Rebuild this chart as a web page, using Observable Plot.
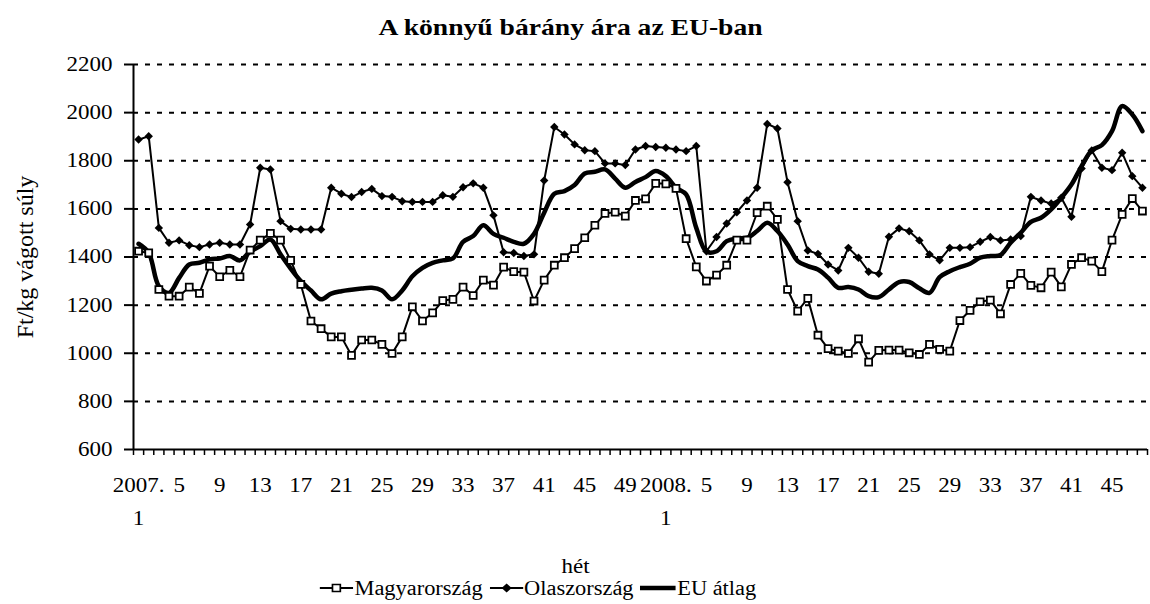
<!DOCTYPE html>
<html>
<head>
<meta charset="utf-8">
<script src="https://cdn.jsdelivr.net/npm/d3@7"></script>
<script src="https://cdn.jsdelivr.net/npm/@observablehq/plot@0.6"></script>
<style>
  html, body { margin: 0; padding: 0; background: #fff; }
  body { font-family: "Liberation Serif", "Times New Roman", serif; color: #000; }
  #wrap { position: relative; width: 1150px; height: 604px; overflow: hidden; }
  #title { position: absolute; top: 14px; left: 0; width: 1141px; text-align: center;
           font-weight: bold; font-size: 24px; line-height: 26px; transform: scaleX(1.15); transform-origin: 50% 50%; }
  #chart { position: absolute; top: 48px; left: 0; }
  #legend { position: absolute; top: 577px; left: 0; width: 1076px; height: 22px; display: flex;
            justify-content: center; align-items: center; font-size: 20px; transform: scaleX(1.12); transform-origin: 50% 50%; }
  #legend .item { display: flex; align-items: center; margin: 0 3px; }
  #legend svg { margin-right: 1px; }
</style>
</head>
<body>
<div id="wrap">
  <div id="title"></div>
  <div id="chart"></div>
  <div id="legend"></div>
</div>
<script>
// ---- Data ----
const chartTitle = "A könnyű bárány ára az EU-ban";
const yTitle = "Ft/kg vágott súly";
const xTitle = "hét";
const seriesNames = ["Magyarország", "Olaszország", "EU átlag"];

// weeks: 2007 week 1..52, 2008 week 1..48
const weeks2007 = 52;
const weeks2008 = 48;
const categories = [
  ...d3.range(1, weeks2007 + 1).map(w => `2007. ${w}`),
  ...d3.range(1, weeks2008 + 1).map(w => `2008. ${w}`)
];

const xTickLabels = ["2007. 1","2007. 5","2007. 9","2007. 13","2007. 17","2007. 21","2007. 25","2007. 29",
  "2007. 33","2007. 37","2007. 41","2007. 45","2007. 49",
  "2008. 1","2008. 5","2008. 9","2008. 13","2008. 17","2008. 21","2008. 25","2008. 29",
  "2008. 33","2008. 37","2008. 41","2008. 45"];

const yTicks = [600, 800, 1000, 1200, 1400, 1600, 1800, 2000, 2200];

const magyar = [
  1424, 1417, 1265, 1237, 1237, 1275, 1249, 1362, 1318, 1345,
  1318, 1429, 1470, 1498, 1470, 1386, 1286, 1134, 1102, 1068,
  1068,  991, 1055, 1055, 1037,  999, 1068, 1193, 1134, 1168,
  1219, 1224, 1275, 1240, 1304, 1283, 1358, 1339, 1337, 1217,
  1304, 1366, 1397, 1435, 1480, 1532, 1581, 1586, 1570, 1635,
  1642, 1706, 1704, 1685, 1476, 1359, 1300, 1325, 1366, 1470,
  1470, 1584, 1611, 1556, 1265, 1175, 1228, 1075, 1019, 1009,
   999, 1060,  963, 1012, 1013, 1013, 1002,  995, 1037, 1016,
  1009, 1136, 1178, 1214, 1221, 1164, 1286, 1332, 1282, 1272,
  1337, 1276, 1369, 1397, 1383, 1339, 1470, 1577, 1643, 1591
];

const olasz = [
  1888, 1902, 1521, 1459, 1469, 1449, 1441, 1452, 1459, 1452,
  1452, 1535, 1771, 1764, 1549, 1517, 1514, 1514, 1514, 1688,
  1663, 1649, 1670, 1683, 1653, 1650, 1632, 1629, 1629, 1629,
  1657, 1650, 1690, 1706, 1688, 1573, 1420, 1417, 1404, 1411,
  1718, 1940, 1909, 1868, 1844, 1840, 1789, 1789, 1782, 1847,
  1861, 1857, 1854, 1847, 1840, 1861, 1424, 1483, 1539, 1586,
  1635, 1688, 1953, 1934, 1711, 1549, 1427, 1413, 1369, 1344,
  1438, 1397, 1339, 1330, 1484, 1519, 1507, 1469, 1411, 1386,
  1438, 1438, 1441, 1463, 1483, 1469, 1473, 1487, 1650, 1635,
  1622, 1646, 1567, 1768, 1843, 1771, 1761, 1833, 1736, 1688
];

const euAtlag = [
  1455, 1417, 1279, 1251, 1313, 1369, 1376, 1390, 1394, 1404,
  1386, 1422, 1445, 1473, 1411, 1352, 1300, 1261, 1224, 1248,
  1258, 1264, 1269, 1272, 1261, 1224, 1261, 1320, 1355, 1376,
  1386, 1394, 1463, 1487, 1532, 1496, 1480, 1463, 1455, 1496,
  1584, 1663, 1674, 1699, 1747, 1754, 1764, 1726, 1688, 1712,
  1732, 1757, 1736, 1688, 1660, 1521, 1422, 1424, 1466, 1477,
  1480, 1508, 1542, 1508, 1452, 1383, 1362, 1348, 1314, 1272,
  1275, 1265, 1237, 1233, 1265, 1296, 1296, 1270, 1251, 1316,
  1341, 1358, 1372, 1397, 1404, 1408, 1459, 1501, 1546, 1563,
  1598, 1646, 1701, 1778, 1843, 1865, 1923, 2027, 1992, 1923
];

// ---- Build tables ----
const toRows = vals => vals.map((v, i) => ({i, cat: categories[i], v}));
const magyarRows = toRows(magyar);
const olaszRows = toRows(olasz);
const euRows = toRows(euAtlag);

const n = categories.length;
const boundaryTicks = d3.range(n + 1).map(k => k - 0.5);
const labelTicks = xTickLabels.map(l => categories.indexOf(l));
const fmtTick = i => {
  const [y, w] = categories[i].split(" ");
  return w === "1" ? `${y}\n${w}` : w;
};

const SX = 1.15;

const chart = Plot.plot({
  width: 1150,
  height: 530,
  marginLeft: 133,
  marginRight: 3,
  marginTop: 16,
  marginBottom: 129,
  style: { fontFamily: "'Liberation Serif', 'Times New Roman', serif", fontSize: "20px", color: "#000", background: "#fff", overflow: "visible" },
  x: { type: "linear", domain: [-0.5, n - 0.5] },
  y: { domain: [600, 2200] },
  marks: [
    Plot.gridY(yTicks.slice(1), { stroke: "#000", strokeOpacity: 1, strokeWidth: 2, strokeDasharray: "5,7" }),
    Plot.axisY(yTicks, { tickSize: 9, tickPadding: 12, strokeWidth: 2, fontSize: 20, tickFormat: d => String(d), label: null }),
    Plot.axisX(boundaryTicks, { tickSize: 6, strokeWidth: 1.5, text: null, label: null }),
    Plot.axisX(labelTicks, { tickSize: 0, tickPadding: 19, tickFormat: fmtTick, lineHeight: 1.65, fontSize: 20, label: null }),
    Plot.ruleX([-0.5], { stroke: "#000", strokeWidth: 2 }),
    Plot.ruleY([600], { stroke: "#000", strokeWidth: 2 }),
    Plot.line(euRows, { x: "i", y: "v", stroke: "#000", strokeWidth: 4.5, curve: "catmull-rom" }),
    Plot.line(olaszRows, { x: "i", y: "v", stroke: "#000", strokeWidth: 2 }),
    Plot.line(magyarRows, { x: "i", y: "v", stroke: "#000", strokeWidth: 2 }),
    Plot.dot(olaszRows, { x: "i", y: "v", symbol: "diamond2", fill: "#000", stroke: "none", r: 3.8 }),
    Plot.dot(magyarRows, { x: "i", y: "v", symbol: "square", fill: "#fff", stroke: "#000", strokeWidth: 1.8, r: 3.9 }),
    Plot.text([xTitle], { frameAnchor: "bottom", dx: -65, dy: 117, fontSize: 20, textAnchor: "middle", lineAnchor: "middle" }),
    Plot.text([yTitle], { frameAnchor: "left", dx: -108, rotate: -90, fontSize: 24, textAnchor: "middle", lineAnchor: "middle" })
  ]
});

// Stretch text horizontally (reference text is horizontally widened)
chart.querySelectorAll("text").forEach(t => {
  const tr = t.getAttribute("transform") || "";
  if (tr.includes("rotate")) return;
  const x = +(t.getAttribute("x") || 0);
  t.setAttribute("transform", `${tr} translate(${x},0) scale(${SX},1) translate(${-x},0)`);
});

document.getElementById("chart").appendChild(chart);
document.getElementById("title").textContent = chartTitle;

// ---- Legend ----
const legend = document.getElementById("legend");
const icons = [
  `<svg width="30" height="14"><line x1="0" y1="7" x2="30" y2="7" stroke="#000" stroke-width="2"/><rect x="11.5" y="3.5" width="7" height="7" fill="#fff" stroke="#000" stroke-width="1.5"/></svg>`,
  `<svg width="30" height="14"><line x1="0" y1="7" x2="30" y2="7" stroke="#000" stroke-width="2"/><path d="M15,2.5L19.5,7L15,11.5L10.5,7Z" fill="#000"/></svg>`,
  `<svg width="32" height="14"><line x1="0" y1="7" x2="32" y2="7" stroke="#000" stroke-width="4.5"/></svg>`
];
seriesNames.forEach((name, k) => {
  const item = document.createElement("span");
  item.className = "item";
  item.innerHTML = icons[k] + `<span>${name}</span>`;
  legend.appendChild(item);
});
</script>
</body>
</html>
